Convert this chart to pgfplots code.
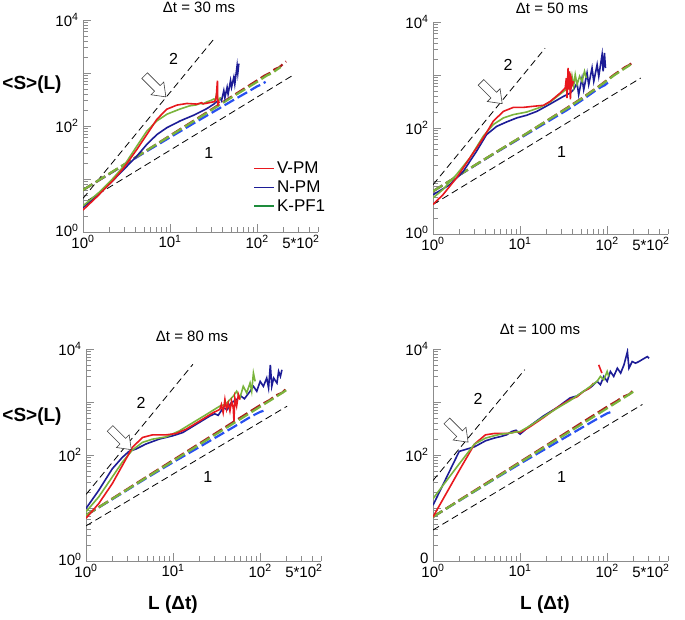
\documentclass[border=0pt]{standalone}
\usepackage{fontspec}
\setmainfont{Liberation Sans}
\usepackage{pgfplots}
\pgfplotsset{compat=1.18}
\definecolor{cred}{RGB}{232,24,30}
\definecolor{cblue}{RGB}{28,28,150}
\definecolor{cgreen}{RGB}{122,180,60}
\definecolor{cgreenleg}{RGB}{30,140,60}
\definecolor{cdred}{RGB}{170,28,28}
\definecolor{cdblue}{RGB}{40,80,240}
\definecolor{axgray}{RGB}{140,140,140}
\pgfplotsset{every axis/.append style={
    xmode=log, ymode=log, scale only axis, width=235pt, height=212pt,
    xmin=1, xmax=500, ymin=1, ymax=10000,
    axis x line*=bottom, axis y line*=left,
    axis line style={axgray, line width=0.9pt, -},
    tick style={axgray, line width=0.7pt},
    tick align=inside,
    major tick length=8pt, minor tick length=5pt,
    xtick={1,10,100},
    xticklabels={10\textsuperscript{0},10\textsuperscript{1},10\textsuperscript{2}},
    extra x ticks={500},
    extra x tick labels={5*10\textsuperscript{2}},
    extra x tick style={major tick length=5pt, xticklabel style={anchor=north east, xshift=5pt}},
    minor xtick={2,3,4,5,6,7,8,9,20,30,40,50,60,70,80,90,200,300,400},
    ytick={1,10,100,1000,10000},
    minor ytick={2,3,4,5,6,7,8,9,20,30,40,50,60,70,80,90,200,300,400,500,600,700,800,900,2000,3000,4000,5000,6000,7000,8000,9000},
    ticklabel style={font=\fontsize{15}{16}\selectfont, text=black},
    yticklabel style={xshift=-1pt},
}}
\pgfplotsset{legend image code/.code={\draw[#1] (0pt,0pt) -- (20pt,0pt);}}
\tikzset{
  rs/.style={cred, line width=1.6pt},
  bs/.style={cblue, line width=1.6pt},
  gs/.style={cgreen, line width=1.6pt},
  cdash/.style={line width=2.2pt, dash pattern=on 11pt off 4pt},
  kdash/.style={black, line width=0.8pt, dash pattern=on 7pt off 4pt},
  numlab/.style={font=\fontsize{16}{17}\selectfont},
}
\newcommand{\hollowarrow}[2]{\draw[black!75, fill=white, line width=0.6pt, shift={(axis cs:#1,#2)}, rotate=-45] (-15pt,-4pt) -- (3pt,-4pt) -- (3pt,-9pt) -- (15pt,0pt) -- (3pt,9pt) -- (3pt,4pt) -- (-15pt,4pt) -- cycle;}
\begin{document}
\begin{tikzpicture}
\useasboundingbox (0,0) rectangle (685pt,619pt);
% ---------------- Panel 1 : 30 ms
\begin{axis}[at={(83pt,387pt)}, anchor=south west,
  yticklabels={\raisebox{4pt}{10\textsuperscript{0}},,10\textsuperscript{2},,10\textsuperscript{4}},
  legend style={at={(0.72,0.345)}, anchor=north west, draw=none, fill=none,
    font=\fontsize{17}{18}\selectfont, row sep=1.5pt, inner sep=1pt},
  legend cell align=left]
\addplot[kdash, forget plot] coordinates {(1,4.3) (31.8,4350)};
\addplot[kdash, forget plot] coordinates {(1.15,4.0) (253,890)};
\addplot[cdblue, cdash, forget plot] coordinates {(1,6.2) (2,12.4) (5,31) (10,61) (20,120) (35,205) (50,290) (80,450) (100,560) (110,600) (125,680)};
\addplot[cdred, cdash, forget plot] coordinates {(1,6.2) (2,12.5) (5,32) (10,66) (20,135) (50,352) (100,724) (120,880) (140,1000) (160,1180) (180,1280) (200,1500) (215,1650)};
\addplot[cgreen, cdash, forget plot] coordinates {(1,6.2) (2,12.6) (5,32) (10,65) (20,132) (50,340) (100,680) (130,900) (150,1000) (170,1170) (186,1290)};
\addplot[bs, forget plot] coordinates {(1,2.9) (1.57,5.4) (2.24,9.6) (2.92,15) (4.15,27) (5.41,45) (7.06,69) (9.2,93) (13.1,125) (18.7,160) (26.6,214) (31.8,259) (37.8,330) (39,300) (41.4,464) (42.6,340) (45.2,537) (46.4,400) (49.5,720) (50.8,537) (54,835) (55.4,620) (58.9,1380) (60,1000) (61.6,1500)};
\addplot[gs, forget plot] coordinates {(1,3.1) (1.57,5.8) (2.24,10.5) (2.92,17.3) (4.15,41.6) (5.41,80) (7.06,125) (9.2,167) (12.9,208) (16.8,240) (20,250) (22,265) (24,262) (26.6,286) (29,300) (31.8,322) (33,300) (34.5,431) (35.5,300) (37,320) (38,350)};
\addplot[rs, forget plot] coordinates {(1,2.6) (1.44,4.6) (2.24,9.6) (2.92,16) (4.15,36) (5.41,69) (7.06,134) (9.2,208) (12,248) (15.6,266) (20.4,259) (23,275) (24,262) (26.6,270) (29,278) (31.8,286) (33,300) (34,373) (35,720) (35.3,240) (35.8,300) (37,270)};
\addlegendimage{cred, line width=1.6pt}\addlegendentry{V-PM}
\addlegendimage{cblue, line width=1.6pt}\addlegendentry{N-PM}
\addlegendimage{cgreenleg, line width=1.6pt}\addlegendentry{K-PF1}
\node[numlab] at (axis cs:11,1860) {2};
\node[numlab] at (axis cs:27.8,31) {1};
\hollowarrow{6.76}{562}
\end{axis}
% ---------------- Panel 2 : 50 ms
\begin{axis}[at={(433pt,385pt)}, anchor=south west,
  yticklabels={\raisebox{4pt}{10\textsuperscript{0}},,10\textsuperscript{2},,10\textsuperscript{4}}]
\addplot[kdash] coordinates {(1,8.5) (19.4,3200)};
\addplot[kdash] coordinates {(1,3.6) (243,877)};
\addplot[cdblue, cdash] coordinates {(1,6.4) (2,12.9) (5,32.5) (10,64) (20,127) (34.6,218) (50,325) (80,560) (95,650) (110,800)};
\addplot[cdred, cdash] coordinates {(1,6.4) (2,13) (5,33) (10,66) (20,135) (34.6,240) (50,355) (80,610) (120,1010) (160,1400) (180,1550) (203,1820)};
\addplot[cgreen, cdash] coordinates {(1,6.4) (2,13) (5,33) (10,66) (20,135) (34.6,235) (50,350) (80,601) (120,980) (160,1340) (186,1570)};
\addplot[bs] coordinates {(1,5.5) (1.56,8.5) (2.22,15.1) (3.16,36.3) (4.12,75) (5.37,107) (7.0,130) (9.16,155) (11.9,174) (15.6,206) (22.2,284) (31.6,396) (37.8,457) (41.2,529) (45.1,706) (47.1,426) (51.5,878) (53.8,529) (58.8,1091) (61.4,657) (67.1,1355) (70.2,759) (76.7,1567) (80.1,944) (87.5,2420) (89.9,1172) (93.1,2600) (95.7,1355)};
\addplot[gs] coordinates {(1,4.8) (1.3,6.9) (1.86,13.2) (2.65,27.2) (3.78,70) (4.92,116) (6.43,155) (8.38,179) (11.9,200) (17,245) (22.2,310) (28.9,437) (34.6,550) (36,815) (37.8,528) (39.5,944) (41.2,611) (43,1014) (45.1,657) (48.3,944) (51.5,759) (55,1170) (57.7,878)};
\addplot[rs] coordinates {(1,3.6) (1.3,5.5) (1.86,11.4) (2.65,27.2) (3.78,64.8) (4.92,134) (6.43,206) (8.38,245) (10.9,245) (14.3,257) (18.6,268) (22.2,318) (28.9,457) (33,569) (34,875) (34.6,368) (35.6,1355) (36.4,528) (37.1,1170) (37.8,346) (38.9,815) (39.9,660) (41.2,760)};
\node[numlab] at (axis cs:7.3,1550) {2};
\node[numlab] at (axis cs:30,36) {1};
\hollowarrow{4.71}{457}
\end{axis}
% ---------------- Panel 3 : 80 ms
\begin{axis}[at={(86pt,58pt)}, anchor=south west,
  yticklabels={\raisebox{4pt}{10\textsuperscript{0}},,10\textsuperscript{2},,10\textsuperscript{4}}]
\addplot[kdash] coordinates {(1,18) (16.9,5140)};
\addplot[kdash] coordinates {(1,4.6) (204,834)};
\addplot[cdblue, cdash] coordinates {(1,7.3) (2,14.6) (5,37) (10,73) (20,141) (50,340) (80,540) (100,650) (114,700)};
\addplot[cdred, cdash] coordinates {(1,7.3) (2,15) (5,39) (10,80) (20,164) (50,426) (100,870) (130,1100) (150,1320) (180,1500) (204,1840)};
\addplot[cgreen, cdash] coordinates {(1,7.3) (2,14.8) (5,38) (10,77) (20,157) (50,400) (100,815) (150,1230) (204,1710)};
\addplot[bs] coordinates {(1,9.8) (1.40,21.5) (2.0,54.7) (2.61,90) (3.12,117) (3.73,129) (4.87,161) (6.95,200) (9.9,230) (12.9,265) (18.5,380) (26.4,543) (30,600) (33,560) (37.6,778) (42,720) (46,950) (53.7,1113) (60,1300) (66,1150) (76.6,1594) (83.7,1977) (91.5,1594) (100,2450) (109,1977) (119,2830) (125,1840) (131,5030) (136,1977) (143,2830) (156,2280) (163,3770) (171,3040) (178,4050)};
\addplot[gs] coordinates {(1,8.5) (1.40,16.2) (2.0,38.3) (2.61,73) (3.41,124) (4.45,173) (5.81,199) (8.3,220) (11.8,285) (16.9,408) (24.2,584) (34.4,836) (40,900) (49.1,1285) (53.7,1594) (58.6,1197) (64,1977) (70,1484) (76.6,2280) (80,1594) (83.7,3510) (87.6,2450)};
\addplot[rs] coordinates {(1,6.4) (1.40,12.1) (2.0,28.7) (2.61,63) (3.41,139) (4.45,214) (5.81,240) (8.3,240) (10.8,254) (14.1,306) (20.2,438) (28.8,628) (34.4,724) (35.9,898) (37.6,628) (39.4,1113) (41.1,724) (43,965) (45,674) (47,1038) (49.1,778) (50,438) (51.2,1197) (53.7,836) (56.2,1380) (58.6,1113)};
\node[numlab] at (axis cs:4.3,960) {2};
\node[numlab] at (axis cs:25,38) {1};
\hollowarrow{2.5}{200}
\end{axis}
% ---------------- Panel 4 : 100 ms
\begin{axis}[at={(433pt,58pt)}, anchor=south west,
  yticklabels={\raisebox{6pt}{0},,10\textsuperscript{2},,10\textsuperscript{4}}]
\addplot[kdash] coordinates {(1,33) (11.3,4070)};
\addplot[kdash] coordinates {(1,3.85) (254,898)};
\addplot[cdblue, cdash] coordinates {(1,6.8) (2,13.7) (5,34.5) (10,68.5) (20,133) (50,320) (80,500) (100,610) (114,660)};
\addplot[cdred, cdash] coordinates {(1,6.8) (2,14) (5,36) (10,74) (20,152) (50,397) (100,815) (130,1050) (150,1240) (180,1400) (204,1710)};
\addplot[cgreen, cdash] coordinates {(1,6.8) (2,13.8) (5,35) (10,72) (20,147) (50,373) (100,760) (150,1150) (204,1594)};
\addplot[bs] coordinates {(1,11.3) (2,117) (3,143) (4,185) (5,208) (6,223) (7,240) (8,277) (9,293) (10,247) (12.9,353) (18.5,543) (26.4,778) (37.6,1197) (45,1300) (53.7,1594) (65,1900) (76.6,2450) (83.7,2125) (91.5,3040) (100,2450) (109,3770) (119,3040) (131,4350) (143,3510) (156,5020) (171,8910) (178,4350) (194,5800) (212,5400) (232,5800) (260,6500) (290,7190) (303,6700)};
\addplot[rs] coordinates {(1,6.8) (2,51) (3,161) (4,240) (5,254) (6,254) (7,254) (8,262) (9,277) (10,265) (12.9,338) (18.5,506) (26.4,778) (37.6,1113) (45,1250) (53.7,1594) (62,1800) (70,2280)};
\addplot[rs] coordinates {(80,5020) (87,3510)};
\addplot[gs] coordinates {(1,15) (2,68) (3,161) (4,208) (5,230) (6,247) (7,254) (8,261) (9,273) (10,277) (12.9,353) (18.5,521) (26.4,756) (37.6,1067) (53.7,1594) (76.6,2450) (83.7,3040) (91.5,2630) (100,3770) (104.5,3040)};
\node[numlab] at (axis cs:3.3,1120) {2};
\node[numlab] at (axis cs:30,38) {1};
\hollowarrow{1.91}{277}
\end{axis}
% ---------------- outer labels
\node[font=\fontsize{15}{16}\selectfont] at (199pt,612pt) {Δt = 30 ms};
\node[font=\fontsize{15}{16}\selectfont] at (552pt,611pt) {Δt = 50 ms};
\node[font=\fontsize{15}{16}\selectfont] at (192pt,283pt) {Δt = 80 ms};
\node[font=\fontsize{15}{16}\selectfont] at (540pt,290pt) {Δt = 100 ms};
\node[font=\bfseries\fontsize{19}{20}\selectfont] at (32pt,534pt) {<S>(L)};
\node[font=\bfseries\fontsize{19}{20}\selectfont] at (32pt,202pt) {<S>(L)};
\node[font=\bfseries\fontsize{19}{20}\selectfont] at (173pt,14pt) {L (Δt)};
\node[font=\bfseries\fontsize{19}{20}\selectfont] at (545pt,14pt) {L (Δt)};
\end{tikzpicture}
\end{document}
